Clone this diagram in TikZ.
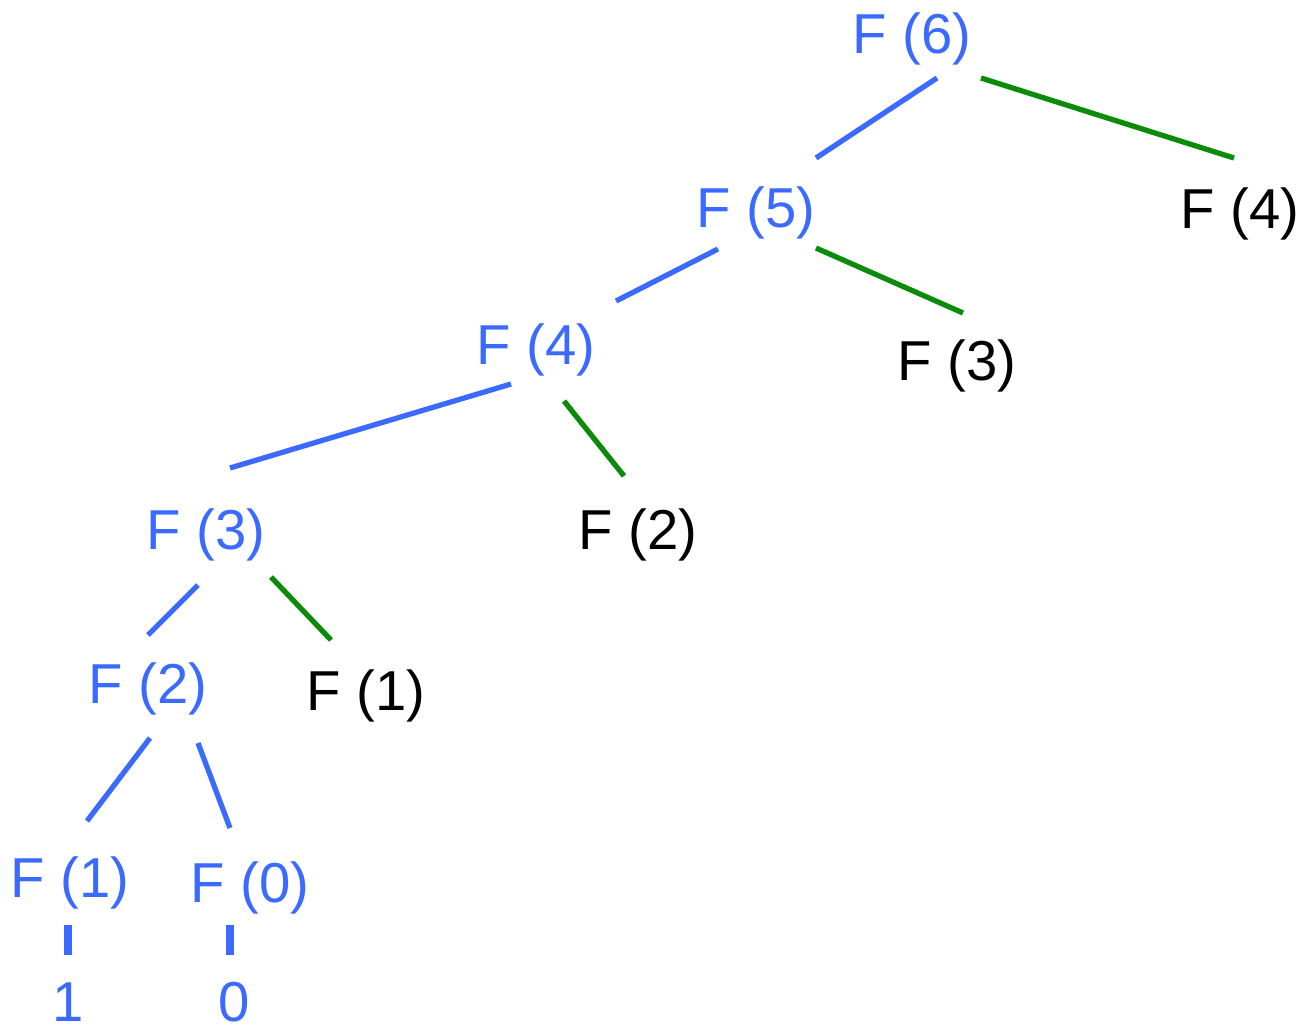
\documentclass[tikz,border=0pt]{standalone}
\usepackage{fontspec}
\setmainfont{Liberation Sans}
\usepackage{xcolor}
\usepackage{tikz}
\definecolor{fibblue}{RGB}{58,106,255}
\definecolor{fibgreen}{RGB}{10,140,10}

\begin{document}
\begin{tikzpicture}[
 x=0.01cm, y=-0.01cm,
 call/.style={anchor=base, inner sep=0pt, font=\fontsize{16pt}{19pt}\selectfont},
 bluecall/.style={call, text=fibblue},
 blackcall/.style={call, text=black},
 bluelink/.style={draw=fibblue, line width=1.5pt},
 greenlink/.style={draw=fibgreen, line width=1.5pt},
 leaflink/.style={draw=fibblue, line width=2pt}
 ]
 \useasboundingbox (0,0) rectangle (1306,1024);

 % Main chain
 \node[bluecall] (f6) at (912,54) {F (6)};
 \node[bluecall] (f5) at (756,227) {F (5)};
 \node[bluecall] (f4) at (536,364) {F (4)};
 \node[bluecall] (f3) at (206,549) {F (3)};
 \node[bluecall] (f2) at (148,703) {F (2)};
 \node[bluecall] (f1) at (70,897) {F (1)};
 \node[bluecall] (f0) at (250,902) {F (0)};

 % Repeated calls
 \node[blackcall] (f4r) at (1240,228) {F (4)};
 \node[blackcall] (f3r) at (957,380) {F (3)};
 \node[blackcall] (f2r) at (638,549) {F (2)};
 \node[blackcall] (f1r) at (366,710) {F (1)};

 % Base values
 \node[bluecall] (one) at (68,1021) {1};
 \node[bluecall] (zero) at (234,1021) {0};

 % Blue links
 \draw[bluelink] ([shift={(25,24)}]f6.base) -- ([shift={(60,-69)}]f5.base);
 \draw[bluelink] ([shift={(-38,22)}]f5.base) -- ([shift={(80,-63)}]f4.base);
 \draw[bluelink] ([shift={(-25,20)}]f4.base) -- ([shift={(24,-81)}]f3.base);
 \draw[bluelink] ([shift={(-8,36)}]f3.base) -- ([shift={(0,-68)}]f2.base);
 \draw[bluelink] ([shift={(2,35)}]f2.base) -- ([shift={(17,-76)}]f1.base);
 \draw[bluelink] ([shift={(50,40)}]f2.base) -- ([shift={(-20,-74)}]f0.base);
 \draw[leaflink] ([shift={(-2,28)}]f1.base) -- ([shift={(0,-66)}]one.base);
 \draw[leaflink] ([shift={(-20,23)}]f0.base) -- ([shift={(-4,-66)}]zero.base);

 % Green links
 \draw[greenlink] ([shift={(69,24)}]f6.base) -- ([shift={(-6,-70)}]f4r.base);
 \draw[greenlink] ([shift={(60,21)}]f5.base) -- ([shift={(6,-67)}]f3r.base);
 \draw[greenlink] ([shift={(28,37)}]f4.base) -- ([shift={(-14,-73)}]f2r.base);
 \draw[greenlink] ([shift={(65,28)}]f3.base) -- ([shift={(-35,-70)}]f1r.base);
\end{tikzpicture}
\end{document}
